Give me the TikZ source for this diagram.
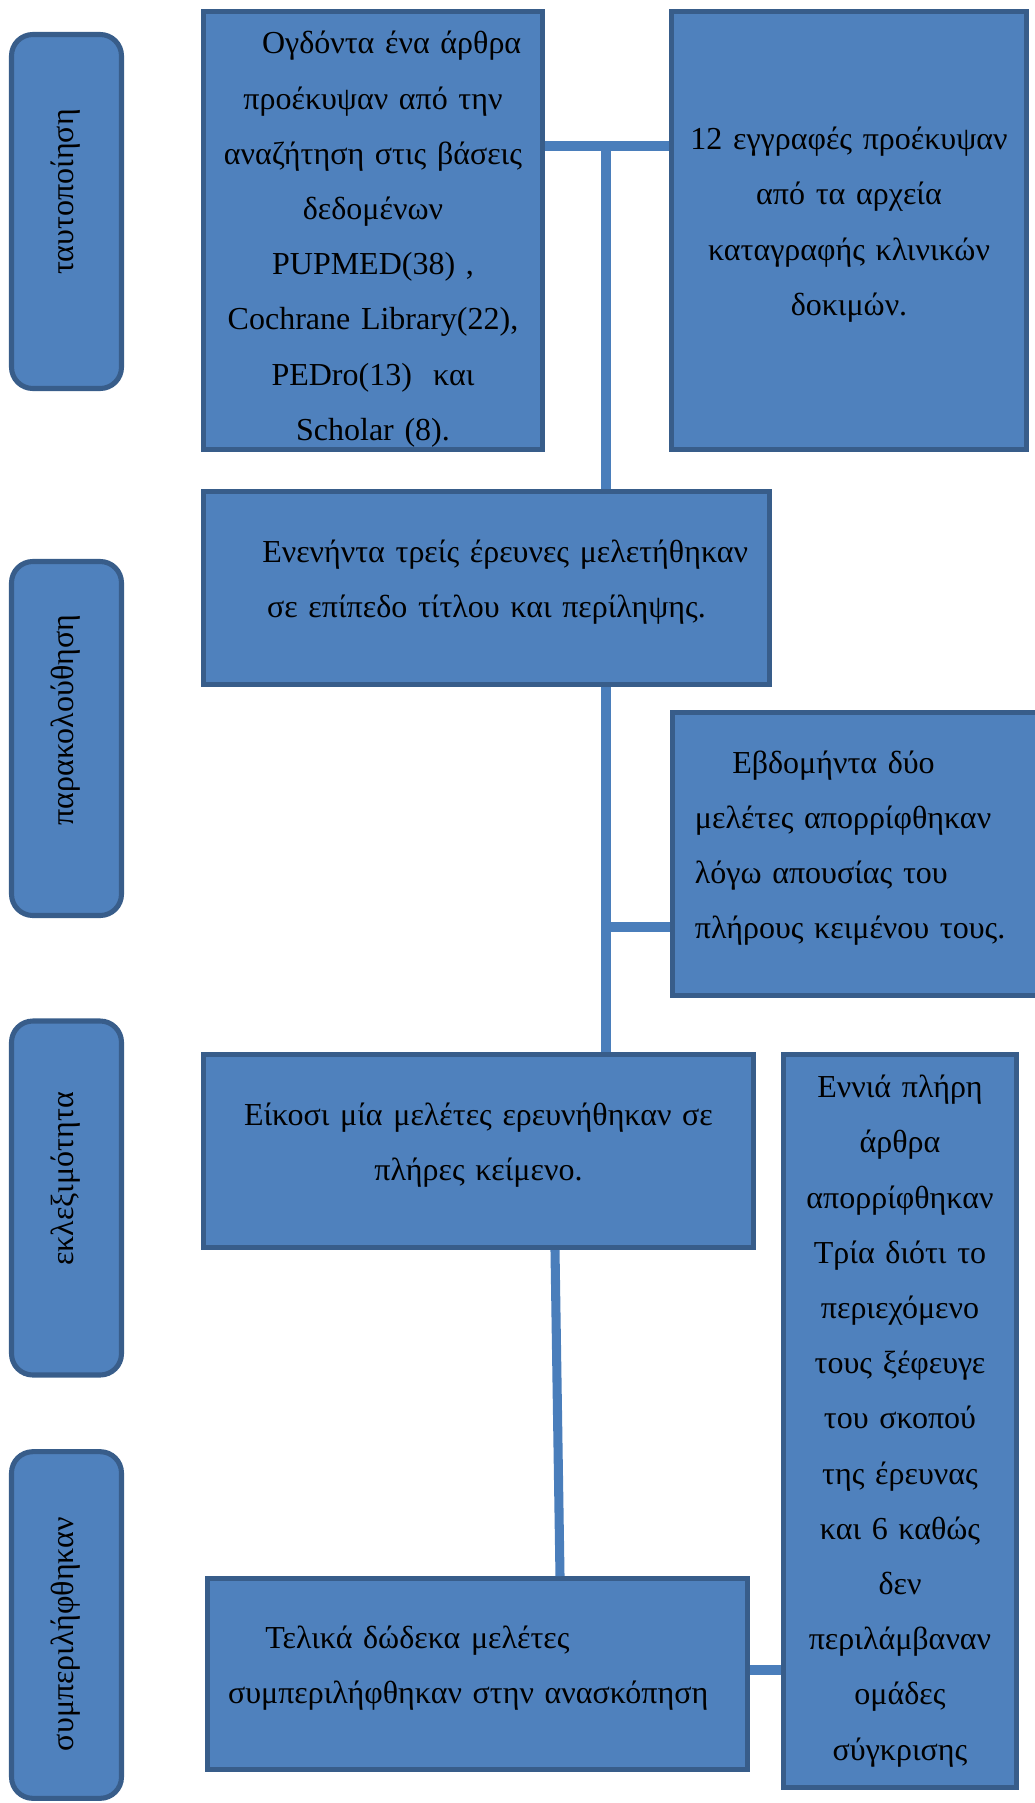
\documentclass[tikz,border=0pt]{standalone}
\usepackage{fontspec}
\setmainfont{Liberation Serif}
\usepackage{xcolor}
\usepackage{tikz}

\definecolor{boxfill}{HTML}{4F81BD}
\definecolor{boxline}{HTML}{385D8A}
\definecolor{linkblue}{HTML}{4A7EBB}

\tikzset{
    stepbox/.style={rectangle, draw=boxline, fill=boxfill, line width=1.9pt,
        inner sep=6pt, align=center, font=\fontsize{12}{20.7}\selectfont},
    lifted/.style={execute at end node={\par\kern4.4pt}},
    phasebox/.style={rectangle, draw=boxline, fill=boxfill, line width=1.9pt,
        rounded corners=8pt, minimum width=41.25pt},
    phasetext/.style={rotate=90, font=\fontsize{12}{14}\selectfont},
    link/.style={draw=linkblue, line width=3.4pt}
}

\begin{document}
\begin{tikzpicture}[x=0.375pt, y=-0.375pt]
    \clip (0,0) rectangle (1035,1803);

    % phases on the left
    \node[phasebox, minimum height=132.75pt] (fasi1) at (66.5,211.5) {};
    \node[phasebox, minimum height=132.75pt] (fasi2) at (66.5,738.5) {};
    \node[phasebox, minimum height=132.75pt] (fasi3) at (66.5,1198) {};
    \node[phasebox, minimum height=130pt] (fasi4) at (66.5,1625) {};
    \node[phasetext] (lbl1) at (66,192) {ταυτοποίηση};
    \node[phasetext] (lbl2) at (66,720) {παρακολούθηση};
    \node[phasetext] (lbl3) at (66,1179) {εκλεξιμότητα};
    \node[phasetext] (lbl4) at (66,1634) {συμπεριλήφθηκαν};

    % identification
    \node[stepbox, inner ysep=0pt, text height=15pt, minimum width=127.1pt, minimum height=164.3pt, text width=115pt] (arthra) at (373,230.5)
        {\hspace*{14pt}Ογδόντα ένα άρθρα\\ προέκυψαν από την\\ αναζήτηση στις βάσεις\\ δεδομένων\\
         PUPMED(38) ,\\ Cochrane Library(22),\\ PEDro(13)\ \ και\\ Scholar (8).};
    \node[stepbox, lifted, minimum width=133.1pt, minimum height=164.3pt, text width=121pt] (mitroa) at (849,230.5)
        {12 εγγραφές προέκυψαν\\ από τα αρχεία\\ καταγραφής κλινικών\\ δοκιμών.};

    % screening
    \node[stepbox, lifted, minimum width=212.3pt, minimum height=72.4pt, text width=200pt] (titloi) at (486.5,588)
        {\hspace*{14pt}Ενενήντα τρείς έρευνες μελετήθηκαν\\ σε επίπεδο τίτλου και περίληψης.};
    \node[stepbox, lifted, align=left, inner xsep=8.4pt, minimum width=140.6pt, minimum height=106.1pt,
        text width=123.8pt] (apokleismos) at (860,854)
        {\hspace*{14pt}Εβδομήντα δύο\\ μελέτες απορρίφθηκαν\\ λόγω απουσίας του\\ πλήρους κειμένου τους.};

    % eligibility
    \node[stepbox, lifted, minimum width=206.3pt, minimum height=72.4pt, text width=194pt] (keimeno) at (478.5,1151)
        {Είκοσι μία μελέτες ερευνήθηκαν σε\\ πλήρες κείμενο.};
    \node[stepbox, inner xsep=4pt, minimum width=87.4pt, minimum height=274.9pt, text width=78pt] (aporripsi) at (900,1421)
        {Εννιά πλήρη\\ άρθρα\\ απορρίφθηκαν\\ Τρία διότι το\\ περιεχόμενο\\ τους ξέφευγε\\ του σκοπού\\
         της έρευνας\\ και 6 καθώς\\ δεν\\ περιλάμβαναν\\ ομάδες\\ σύγκρισης};

    % included
    \node[stepbox, lifted, align=left, inner xsep=7.7pt, minimum width=202.5pt, minimum height=71.6pt,
        text width=187.1pt] (ektypo) at (477.5,1674)
        {\hspace*{14pt}Τελικά δώδεκα μελέτες\\ συμπεριλήφθηκαν στην ανασκόπηση};

    % connectors
    \coordinate (k1) at (606,146);
    \coordinate (k2) at (606,927);
    \coordinate (k3) at (555,0);
    \coordinate (k4) at (560,0);
    \coordinate (k5) at (0,1670);
    \draw[link] (arthra.east |- k1) -- (mitroa.west |- k1);
    \draw[link] (k1) -- (titloi.north -| k1);
    \draw[link] (titloi.south -| k1) -- (keimeno.north -| k1);
    \draw[link] (k2) -- (apokleismos.west |- k2);
    \draw[link] (keimeno.south -| k3) -- (ektypo.north -| k4);
    \draw[link] (ektypo.east |- k5) -- (aporripsi.west |- k5);
\end{tikzpicture}
\end{document}
